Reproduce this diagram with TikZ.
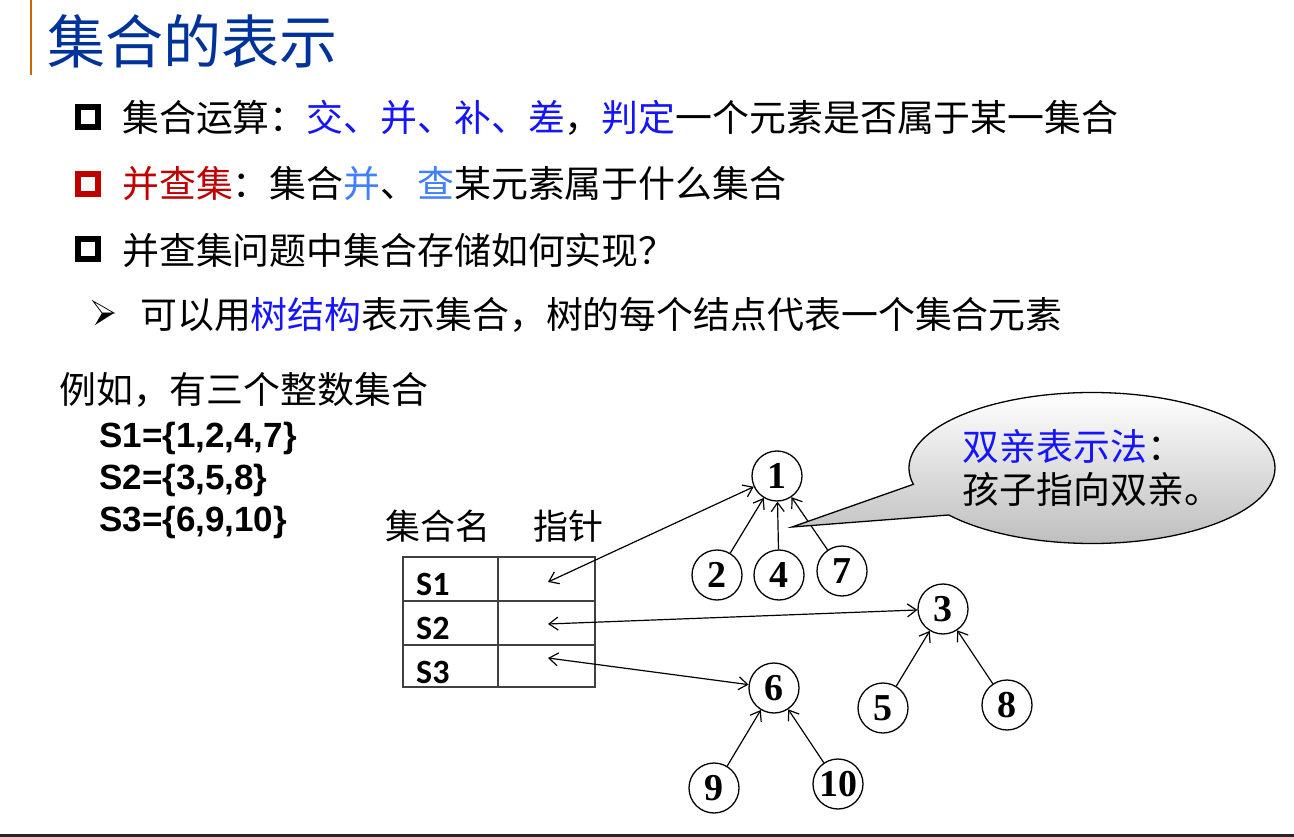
\documentclass[tikz,border=0pt]{standalone}
\usepackage{fontspec}
\usetikzlibrary{arrows.meta,shapes.callouts}
\newfontfamily\cjk{Noto Sans CJK SC}
\newfontfamily\arialfont{Liberation Sans}
\newfontfamily\calfont{Carlito}
\newfontfamily\timesfont{Liberation Serif}
\definecolor{titleblue}{RGB}{0,51,153}
\definecolor{ruleorange}{RGB}{204,102,0}
\definecolor{markblue}{RGB}{20,20,255}
\definecolor{lightblue}{RGB}{64,128,255}
\definecolor{darkred}{RGB}{192,0,0}
\newcommand{\bodysize}{\fontsize{36.9}{43}\selectfont}

\begin{document}
\begin{tikzpicture}[x=1pt,y=-1pt,
  txt/.style={anchor=west,inner sep=0pt,font=\cjk\bodysize},
  setline/.style={anchor=base west,inner sep=0pt,font=\arialfont\bfseries\fontsize{35}{35}\selectfont},
  rowname/.style={anchor=base west,inner sep=0pt,font=\calfont\bfseries\fontsize{34}{34}\selectfont},
  box/.style={line width=6pt,draw=#1},
  elem/.style={circle,draw,line width=1.3pt,minimum size=50pt,inner sep=0pt,
    font=\timesfont\bfseries\fontsize{38}{38}\selectfont},
  ptr/.style={line width=1.2pt,-{Straight Barb[length=9pt,width=13pt]}},
  dptr/.style={line width=1.2pt,{Straight Barb[length=9pt,width=13pt]}-{Straight Barb[length=9pt,width=13pt]}}]
  \useasboundingbox (0,0) rectangle (1294,837);
  % Title
  \draw[ruleorange,line width=2.5pt] (31,0) -- (31,75);
  \node[anchor=west,inner sep=0pt,font=\cjk\fontsize{58}{58}\selectfont,text=titleblue] (title) at (47,41) {集合的表示};
  % Bullet list
  \draw[box=black] (78,107) rectangle (98,127);
  \node[txt] (l1) at (122,118) {集合运算：\textcolor{markblue}{交、并、补、差}，\textcolor{markblue}{判定}一个元素是否属于某一集合};
  \draw[box=darkred] (78,174) rectangle (98,194);
  \node[txt] (l2) at (122,184) {\textcolor{darkred}{并查集}：集合\textcolor{lightblue}{并}、\textcolor{lightblue}{查}某元素属于什么集合};
  \draw[box=black] (78,239) rectangle (98,259);
  \node[txt] (l3) at (122,250) {并查集问题中集合存储如何实现？};
  \filldraw[fill=white,line width=0.8pt] (93,301) -- (114,313) -- (102,313) -- cycle;
  \fill (102,313) -- (114,313) -- (95,325) -- cycle;
  \node[txt] (l4) at (140,315) {可以用\textcolor{markblue}{树结构}表示集合，树的每个结点代表一个集合元素};
  % Example sets
  \node[txt] (ex) at (59,390) {例如，有三个整数集合};
  \node[setline] (set1) at (99,447) {S1=\{1,2,4,7\}};
  \node[setline] (set2) at (99,489) {S2=\{3,5,8\}};
  \node[setline] (set3) at (99,531) {S3=\{6,9,10\}};
  % Table
  \node[txt,font=\cjk\fontsize{35}{35}\selectfont] (hname) at (385,526) {集合名};
  \node[txt,font=\cjk\fontsize{35}{35}\selectfont] (hptr) at (533,526) {指针};
  \draw[line width=2pt,black!75] (403,557) rectangle (595,687)
    (498,557) -- (498,687) (403,601) -- (595,601) (403,645) -- (595,645);
  \node[rowname] (s1) at (416,595) {S1};
  \node[rowname] (s2) at (416,639) {S2};
  \node[rowname] (s3) at (416,683) {S3};
  \coordinate (p1) at (548,582);
  \coordinate (p2) at (548,624);
  \coordinate (p3) at (548,658);
  % Trees
  \node[elem] (n1) at (777,476) {1};
  \node[elem] (n2) at (717,575) {2};
  \node[elem] (n4) at (779,575) {4};
  \node[elem] (n7) at (842,571) {7};
  \node[elem] (n3) at (943,609) {3};
  \node[elem] (n5) at (883,708) {5};
  \node[elem] (n8) at (1007,705) {8};
  \node[elem] (n6) at (774,688) {6};
  \node[elem] (n9) at (714,788) {9};
  \node[elem] (n10) at (838,784) {10};
  \draw[ptr] (n2) -- (n1);
  \draw[ptr] (n4) -- (n1);
  \draw[ptr] (n7) -- (n1);
  \draw[ptr] (n5) -- (n3);
  \draw[ptr] (n8) -- (n3);
  \draw[ptr] (n9) -- (n6);
  \draw[ptr] (n10) -- (n6);
  \draw[dptr] (p1) -- (n1);
  \draw[dptr] (p2) -- (n3);
  \draw[dptr] (p3) -- (n6);
  % Callout
  \coordinate (tip) at (792,527);
  \node[ellipse callout,draw,line width=1.3pt,top color=white,bottom color=black!27,
    minimum width=366pt,minimum height=151pt,inner sep=0pt,
    callout absolute pointer={(tip)},callout pointer arc=26,
    align=left,font=\cjk\bodysize] (note) at (1092,468)
    {\textcolor{markblue}{双亲表示法}：\\孩子指向双亲。};
  % Bottom rule
  \draw[black!85,line width=3pt] (0,835) -- (1294,835);
\end{tikzpicture}
\end{document}
